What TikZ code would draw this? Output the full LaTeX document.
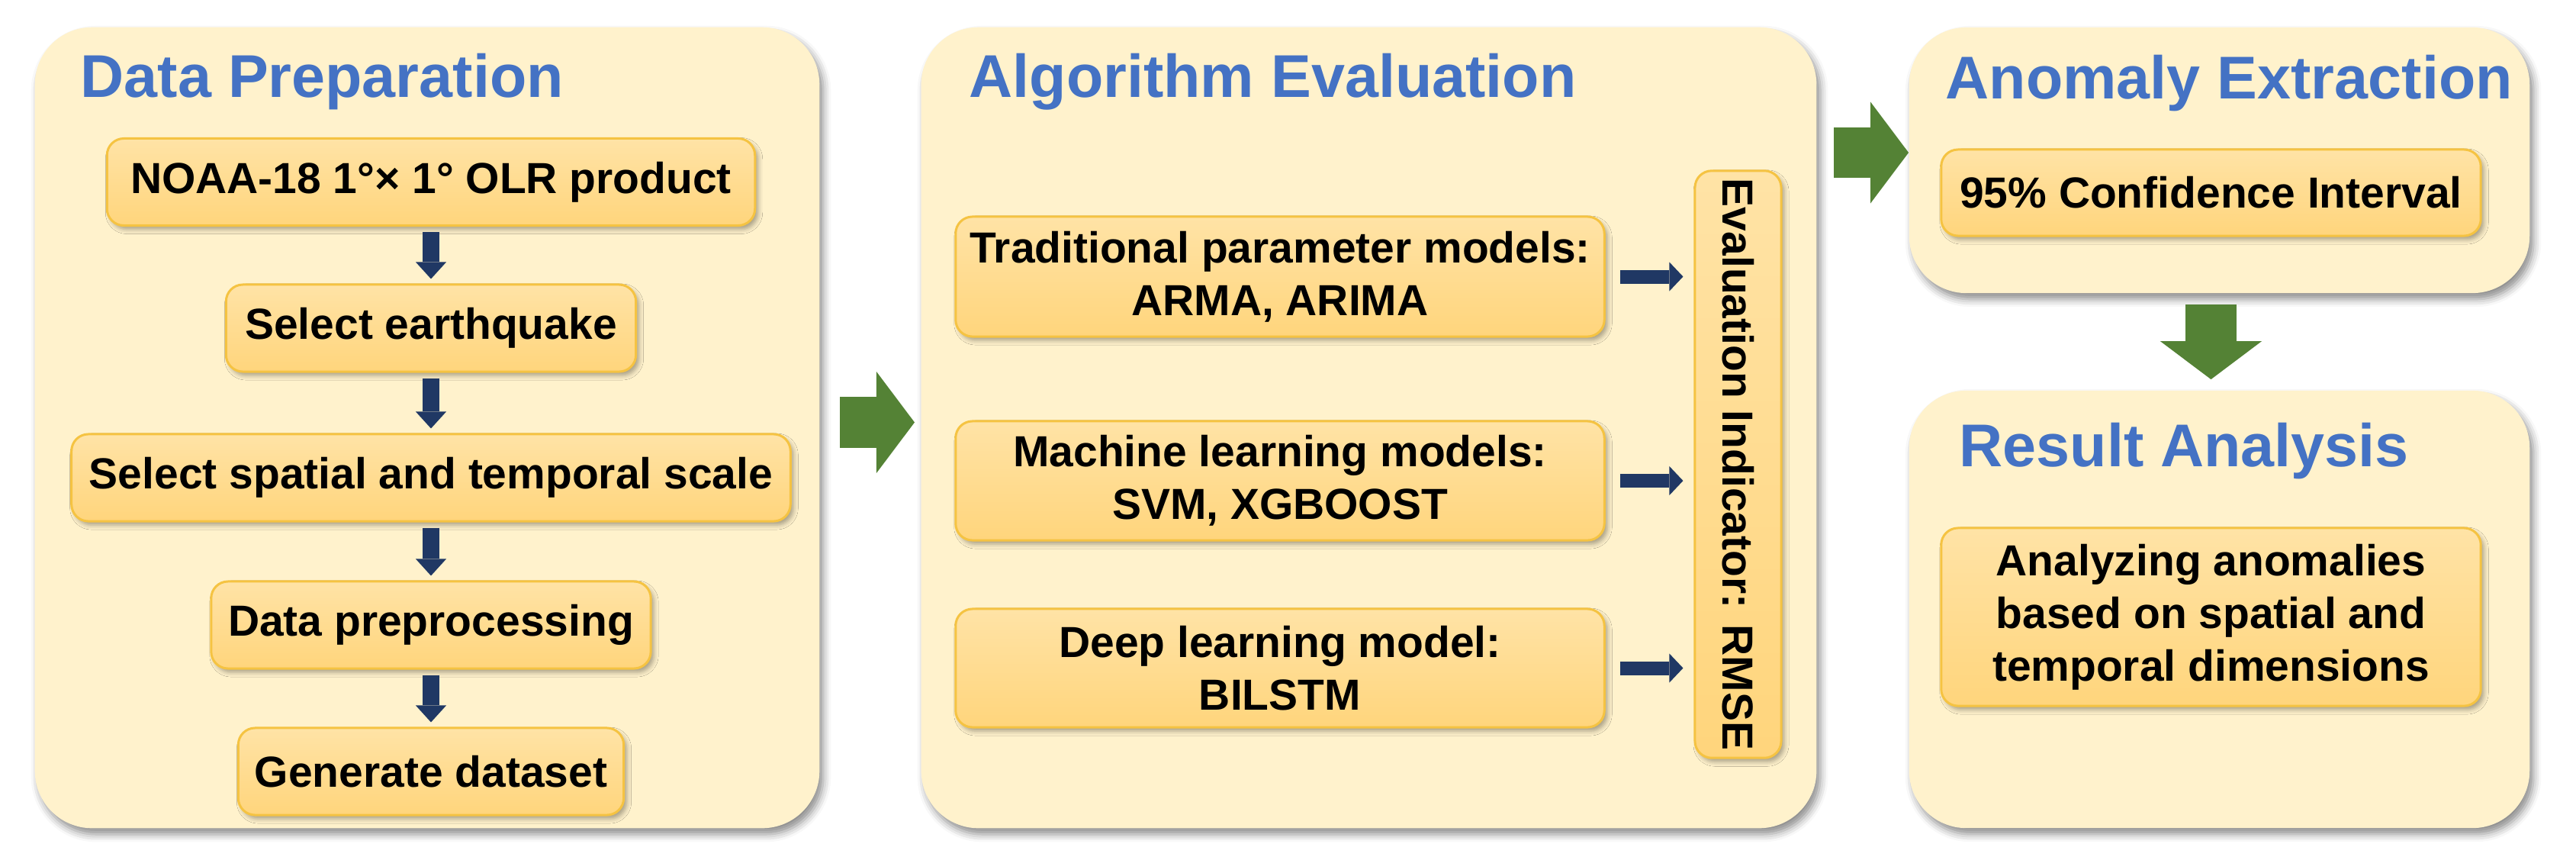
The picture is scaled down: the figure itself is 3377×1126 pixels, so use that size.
\documentclass[tikz,border=0pt]{standalone}
\usepackage{fontspec}
\setmainfont{Liberation Sans}
\usepackage{xcolor}
\usepackage{tikz}
\usetikzlibrary{arrows.meta,shadows.blur}

\definecolor{panelfill}{HTML}{FFF2CC}
\definecolor{boxtop}{HTML}{FFE3A6}
\definecolor{boxbottom}{HTML}{FFD57C}
\definecolor{boxline}{HTML}{F5C342}
\definecolor{titleblue}{HTML}{4472C4}
\definecolor{arrowblue}{HTML}{203864}
\definecolor{leafgreen}{HTML}{548235}

\begin{document}
\begin{tikzpicture}[x=0.01cm, y=-0.01cm,
    panel/.style={rectangle, rounded corners=0.75cm, fill=panelfill, inner sep=0pt,
        blur shadow={shadow xshift=0.05cm, shadow yshift=-0.08cm, shadow blur radius=0.1cm, shadow opacity=45}},
    heading/.style={anchor=base west, inner sep=0pt, text=titleblue, font=\fontsize{22.5}{27}\selectfont\bfseries},
    stepbox/.style={rectangle, rounded corners=0.22cm, draw=boxline, line width=0.03cm,
        top color=boxtop, bottom color=boxbottom, align=center, inner sep=0pt, minimum height=1.14cm,
        font=\fontsize{16.2}{19.6}\selectfont\bfseries,
        blur shadow={shadow xshift=0.04cm, shadow yshift=-0.05cm, shadow blur radius=0.06cm, shadow opacity=35}},
    downarrow/.style={draw=arrowblue, line width=0.22cm, -{Triangle[length=0.22cm, width=0.40cm, line width=0pt]},
        shorten <=0.07cm, shorten >=0.06cm},
    sidearrow/.style={draw=arrowblue, line width=0.18cm, -{Triangle[length=0.18cm, width=0.38cm, line width=0pt]},
        shorten <=0.19cm, shorten >=0.14cm},
    greenarrow/.style={draw=leafgreen, line width=0.66cm, -{Triangle[length=0.5cm, width=1.33cm, line width=0pt]}}]
    \useasboundingbox (0,0) rectangle (3377,1126);

    % Paneles (fondo)
    \node[panel, minimum width=10.28cm, minimum height=10.49cm] (dp) at (560,560.5) {};
    \node[panel, minimum width=11.73cm, minimum height=10.49cm] (ae) at (1794.5,560.5) {};
    \node[panel, minimum width=8.13cm, minimum height=3.48cm] (ax) at (2909.5,210) {};
    \node[panel, minimum width=8.13cm, minimum height=5.73cm] (ra) at (2909.5,798.5) {};

    \node[heading] (dptitle) at (105,127) {Data Preparation};
    \node[heading] (aetitle) at (1270,127) {Algorithm Evaluation};
    \node[heading] (axtitle) at (2550,129) {Anomaly Extraction};
    \node[heading] (ratitle) at (2568,611) {Result Analysis};

    % Preparacion de datos (izquierda)
    \node[stepbox, minimum width=8.49cm] (olr) at (565,238.5) {NOAA-18 1°× 1° OLR product};
    \node[stepbox, minimum width=5.37cm] (quake) at (565,430) {Select earthquake};
    \node[stepbox, minimum width=9.42cm] (scale) at (565,626) {Select spatial and temporal scale};
    \node[stepbox, minimum width=5.76cm] (prep) at (565,819) {Data preprocessing};
    \node[stepbox, minimum width=5.05cm] (gen) at (565,1011) {Generate dataset};

    \draw[downarrow] (olr) -- (quake);
    \draw[downarrow] (quake) -- (scale);
    \draw[downarrow] (scale) -- (prep);
    \draw[downarrow] (prep) -- (gen);

    % Evaluacion de algoritmos (centro)
    \node[stepbox, minimum width=8.5cm, minimum height=1.57cm] (arma) at (1678,362.5) {Traditional parameter models:\\ARMA, ARIMA};
    \node[stepbox, minimum width=8.5cm, minimum height=1.56cm] (ml) at (1678,630) {Machine learning models:\\SVM, XGBOOST};
    \node[stepbox, minimum width=8.5cm, minimum height=1.55cm] (dl) at (1678,875.5) {Deep learning model:\\BILSTM};
    \node[stepbox, rotate=-90, minimum width=7.69cm, minimum height=1.13cm] (rmse) at (2278.5,608.5) {Evaluation Indicator: RMSE};

    \draw[sidearrow] (arma.east) -- (arma.east -| rmse.south);
    \draw[sidearrow] (ml.east) -- (ml.east -| rmse.south);
    \draw[sidearrow] (dl.east) -- (dl.east -| rmse.south);

    % Anomalias y resultados (derecha)
    \node[stepbox, minimum width=7.07cm, minimum height=1.13cm] (ci) at (2898.5,252.5) {95\% Confidence Interval};
    \node[stepbox, minimum width=7.07cm, minimum height=2.33cm] (dims) at (2898.5,808.5) {Analyzing anomalies\\based on spatial and\\temporal dimensions};

    \draw[greenarrow, shorten <=0.26cm, shorten >=0.08cm] ([yshift=0.07cm]dp.east) -- ([yshift=0.07cm]ae.west);
    \draw[greenarrow, shorten <=0.22cm] ([yshift=0.1cm]ae.east |- ax.west) -- ([yshift=0.1cm]ax.west);
    \draw[greenarrow, shorten <=0.14cm, shorten >=0.14cm] ([xshift=-0.11cm]ax.south) -- ([xshift=-0.11cm]ra.north);
\end{tikzpicture}
\end{document}
